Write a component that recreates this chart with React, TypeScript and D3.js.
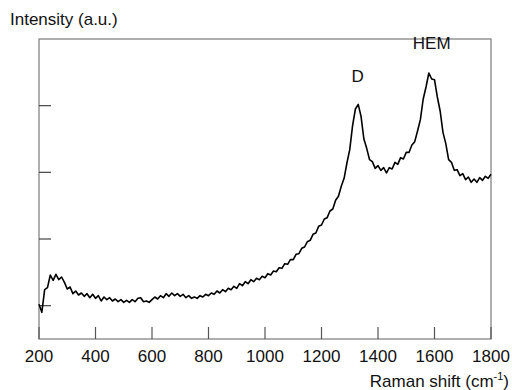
import { useEffect, useRef } from "react";
import * as d3 from "d3";

// Raman spectrum, every 10 cm-1 (intensity in arbitrary units)
const shift = [
  200, 210, 220, 230, 240, 250, 260, 270, 280, 290, 300, 310, 320, 330, 340, 350, 360, 370, 380, 390,
  400, 410, 420, 430, 440, 450, 460, 470, 480, 490, 500, 510, 520, 530, 540, 550, 560, 570, 580, 590,
  600, 610, 620, 630, 640, 650, 660, 670, 680, 690, 700, 710, 720, 730, 740, 750, 760, 770, 780, 790,
  800, 810, 820, 830, 840, 850, 860, 870, 880, 890, 900, 910, 920, 930, 940, 950, 960, 970, 980, 990,
  1000, 1010, 1020, 1030, 1040, 1050, 1060, 1070, 1080, 1090, 1100, 1110, 1120, 1130, 1140, 1150, 1160, 1170, 1180, 1190,
  1200, 1210, 1220, 1230, 1240, 1250, 1260, 1270, 1280, 1290, 1300, 1310, 1320, 1330, 1340, 1350, 1360, 1370, 1380, 1390,
  1400, 1410, 1420, 1430, 1440, 1450, 1460, 1470, 1480, 1490, 1500, 1510, 1520, 1530, 1540, 1550, 1560, 1570, 1580, 1590,
  1600, 1610, 1620, 1630, 1640, 1650, 1660, 1670, 1680, 1690, 1700, 1710, 1720, 1730, 1740, 1750, 1760, 1770, 1780, 1790,
  1800,
];
const intensity = [
  1.02, 0.9, 1.24, 1.27, 1.46, 1.38, 1.47, 1.39, 1.43, 1.35, 1.25, 1.28, 1.18, 1.22, 1.16, 1.19, 1.14, 1.18, 1.12, 1.17,
  1.11, 1.15, 1.07, 1.13, 1.09, 1.12, 1.07, 1.1, 1.06, 1.09, 1.05, 1.08, 1.05, 1.09, 1.06, 1.11, 1.12, 1.06, 1.07, 1.05,
  1.09, 1.13, 1.1, 1.15, 1.12, 1.18, 1.14, 1.19, 1.15, 1.18, 1.14, 1.17, 1.12, 1.15, 1.11, 1.13, 1.11, 1.15, 1.13, 1.17,
  1.15, 1.19, 1.17, 1.22, 1.19, 1.24, 1.21, 1.26, 1.24, 1.29, 1.26, 1.33, 1.3, 1.36, 1.33, 1.39, 1.36, 1.41, 1.39, 1.44,
  1.42, 1.48, 1.46, 1.52, 1.51, 1.57, 1.56, 1.63, 1.62, 1.69, 1.69, 1.77, 1.78, 1.86, 1.88, 1.96, 1.98, 2.07, 2.09, 2.19,
  2.21, 2.3, 2.32, 2.42, 2.45, 2.58, 2.64, 2.79, 2.91, 3.14, 3.34, 3.7, 3.95, 4.02, 3.84, 3.5, 3.36, 3.19, 3.16, 3.06,
  3.1, 3.03, 3.07, 2.99, 3.07, 3.05, 3.15, 3.12, 3.22, 3.2, 3.3, 3.3, 3.41, 3.46, 3.62, 3.79, 4.1, 4.28, 4.49, 4.4,
  4.39, 4.13, 3.92, 3.6, 3.43, 3.19, 3.15, 3.03, 3.04, 2.95, 2.98, 2.89, 2.93, 2.85, 2.9, 2.85, 2.92, 2.88, 2.94, 2.91,
  2.97,
];
const xTicks = [200, 400, 600, 800, 1000, 1200, 1400, 1600, 1800];
const yTicks = [1, 2, 3, 4];
const peaks = [
  { label: "D", at: 1328, level: 4.35 },
  { label: "HEM", at: 1590, level: 4.85 },
];

function App() {
  const svgRef = useRef<SVGSVGElement>(null);

  useEffect(() => {
    const width = 512;
    const height = 390;
    const left = 39;
    const right = 491;
    const top = 39;
    const bottom = 339;
    const font = "Arial, 'Liberation Sans', Helvetica, sans-serif";

    const svg = d3.select(svgRef.current);
    svg.selectAll("*").remove();
    svg.attr("width", width).attr("height", height).attr("viewBox", `0 0 ${width} ${height}`);

    const x = d3.scaleLinear().domain([200, 1800]).range([left, right]);
    const y = d3.scaleLinear().domain([0.5, 5]).range([bottom, top]);

    // frame
    svg
      .append("rect")
      .attr("x", left)
      .attr("y", top)
      .attr("width", right - left)
      .attr("height", bottom - top)
      .attr("fill", "none")
      .attr("stroke", "#7a7a7a")
      .attr("stroke-width", 1.2);

    // x ticks (inward) + labels
    const xg = svg.append("g");
    xg.selectAll("line")
      .data(xTicks)
      .enter()
      .append("line")
      .attr("x1", (d) => x(d))
      .attr("x2", (d) => x(d))
      .attr("y1", bottom)
      .attr("y2", bottom - 12)
      .attr("stroke", "#555")
      .attr("stroke-width", 1.2);
    xg.selectAll("text")
      .data(xTicks)
      .enter()
      .append("text")
      .attr("x", (d) => x(d))
      .attr("y", 362)
      .attr("text-anchor", "middle")
      .attr("font-family", font)
      .attr("font-size", 17)
      .attr("fill", "#111")
      .text((d) => d);

    // y ticks (inward, no labels)
    svg
      .append("g")
      .selectAll("line")
      .data(yTicks)
      .enter()
      .append("line")
      .attr("x1", left)
      .attr("x2", left + 12)
      .attr("y1", (d) => y(d))
      .attr("y2", (d) => y(d))
      .attr("stroke", "#444")
      .attr("stroke-width", 1.2);

    // spectrum
    const line = d3
      .line<number>()
      .x((_, i) => x(shift[i]))
      .y((d) => y(d));
    svg
      .append("path")
      .datum(intensity)
      .attr("d", line)
      .attr("fill", "none")
      .attr("stroke", "#000")
      .attr("stroke-width", 1.6)
      .attr("stroke-linejoin", "round");

    // peak labels
    svg
      .append("g")
      .selectAll("text")
      .data(peaks)
      .enter()
      .append("text")
      .attr("x", (d) => x(d.at))
      .attr("y", (d) => y(d.level))
      .attr("text-anchor", "middle")
      .attr("font-family", font)
      .attr("font-size", 17)
      .attr("fill", "#111")
      .text((d) => d.label);

    // axis titles
    svg
      .append("text")
      .attr("x", 10)
      .attr("y", 25)
      .attr("font-family", font)
      .attr("font-size", 17)
      .attr("fill", "#111")
      .text("Intensity (a.u.)");

    const xt = svg
      .append("text")
      .attr("x", 509)
      .attr("y", 387)
      .attr("text-anchor", "end")
      .attr("font-family", font)
      .attr("font-size", 17)
      .attr("fill", "#111");
    xt.append("tspan").text("Raman shift (cm");
    xt.append("tspan").attr("font-size", 11).attr("dy", -7).text("-1");
    xt.append("tspan").attr("dy", 7).text(")");
  }, []);

  return (
    <svg
      ref={svgRef}
      style={{ position: "absolute", left: 0, top: 0, display: "block", background: "#fff" }}
    ></svg>
  );
}

export default App;
